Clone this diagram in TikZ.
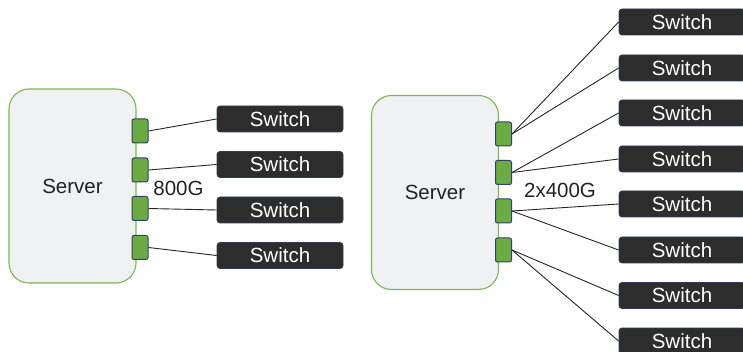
\documentclass[tikz,border=0pt]{standalone}
\usepackage{fontspec}
\setmainfont{Liberation Sans}
\definecolor{srvfill}{HTML}{F0F1F3}
\definecolor{srvline}{HTML}{7DB652}
\definecolor{portfill}{HTML}{6AAB44}
\definecolor{portline}{HTML}{2E4560}
\definecolor{swfill}{HTML}{2D2D2D}
\definecolor{swline}{HTML}{2C3E58}
\definecolor{ink}{HTML}{222222}
\tikzset{
  server/.style={draw=srvline, fill=srvfill, line width=1.1pt, rounded corners=20pt,
    minimum width=127pt, minimum height=194pt, inner sep=0pt, text=ink,
    font=\fontsize{20.5}{24}\selectfont},
  port/.style={draw=portline, fill=portfill, line width=1pt, rounded corners=2pt,
    minimum width=16pt, minimum height=24pt, inner sep=0pt},
  switchbox/.style={draw=swline, fill=swfill, line width=0.8pt, rounded corners=3pt,
    minimum width=126pt, minimum height=26pt, inner sep=0pt, text=white,
    font=\fontsize{20.5}{24}\selectfont},
  link/.style={draw=black!85, line width=0.9pt},
  speed/.style={font=\fontsize{20.5}{24}\selectfont, inner sep=0pt, text=ink}
}
\begin{document}
\begin{tikzpicture}[x=1pt, y=-1pt]
\useasboundingbox (0,0) rectangle (743,352);

% left: one 800G link per port
\node[server] (s1) at (72.5,186) {Server};
\node[port] (p1) at (140,131) {};
\node[port] (p2) at (140,170) {};
\node[port] (p3) at (140,208.5) {};
\node[port] (p4) at (140,247.5) {};
\node[speed] (l1) at (178.5,188) {800G};
\foreach \i/\y in {1/119, 2/164.5, 3/210, 4/255.5}
  \node[switchbox] (a\i) at (280,\y) {Switch};
\foreach \i in {1,...,4}
  \draw[link] (p\i.east) -- (a\i.west);

% right: each port split into 2x400G
\node[server] (s2) at (435,192.5) {Server};
\node[port] (q1) at (503.5,134) {};
\node[port] (q2) at (503.5,172.5) {};
\node[port] (q3) at (503.5,211) {};
\node[port] (q4) at (503.5,250) {};
\node[speed] (l2) at (560,190) {2x400G};
\foreach \i/\y in {1/22, 2/68, 3/113, 4/159, 5/204, 6/250, 7/295.5, 8/341}
  \node[switchbox] (b\i) at (682,\y) {Switch};
\draw[link] (q1.east) -- (b1.west);
\draw[link] (q1.east) -- (b2.west);
\draw[link] (q2.east) -- (b3.west);
\draw[link] (q2.east) -- (b4.west);
\draw[link] (q3.east) -- (b5.west);
\draw[link] (q3.east) -- (b6.west);
\draw[link] (q4.east) -- (b7.west);
\draw[link] (q4.east) -- (b8.west);
\end{tikzpicture}
\end{document}
